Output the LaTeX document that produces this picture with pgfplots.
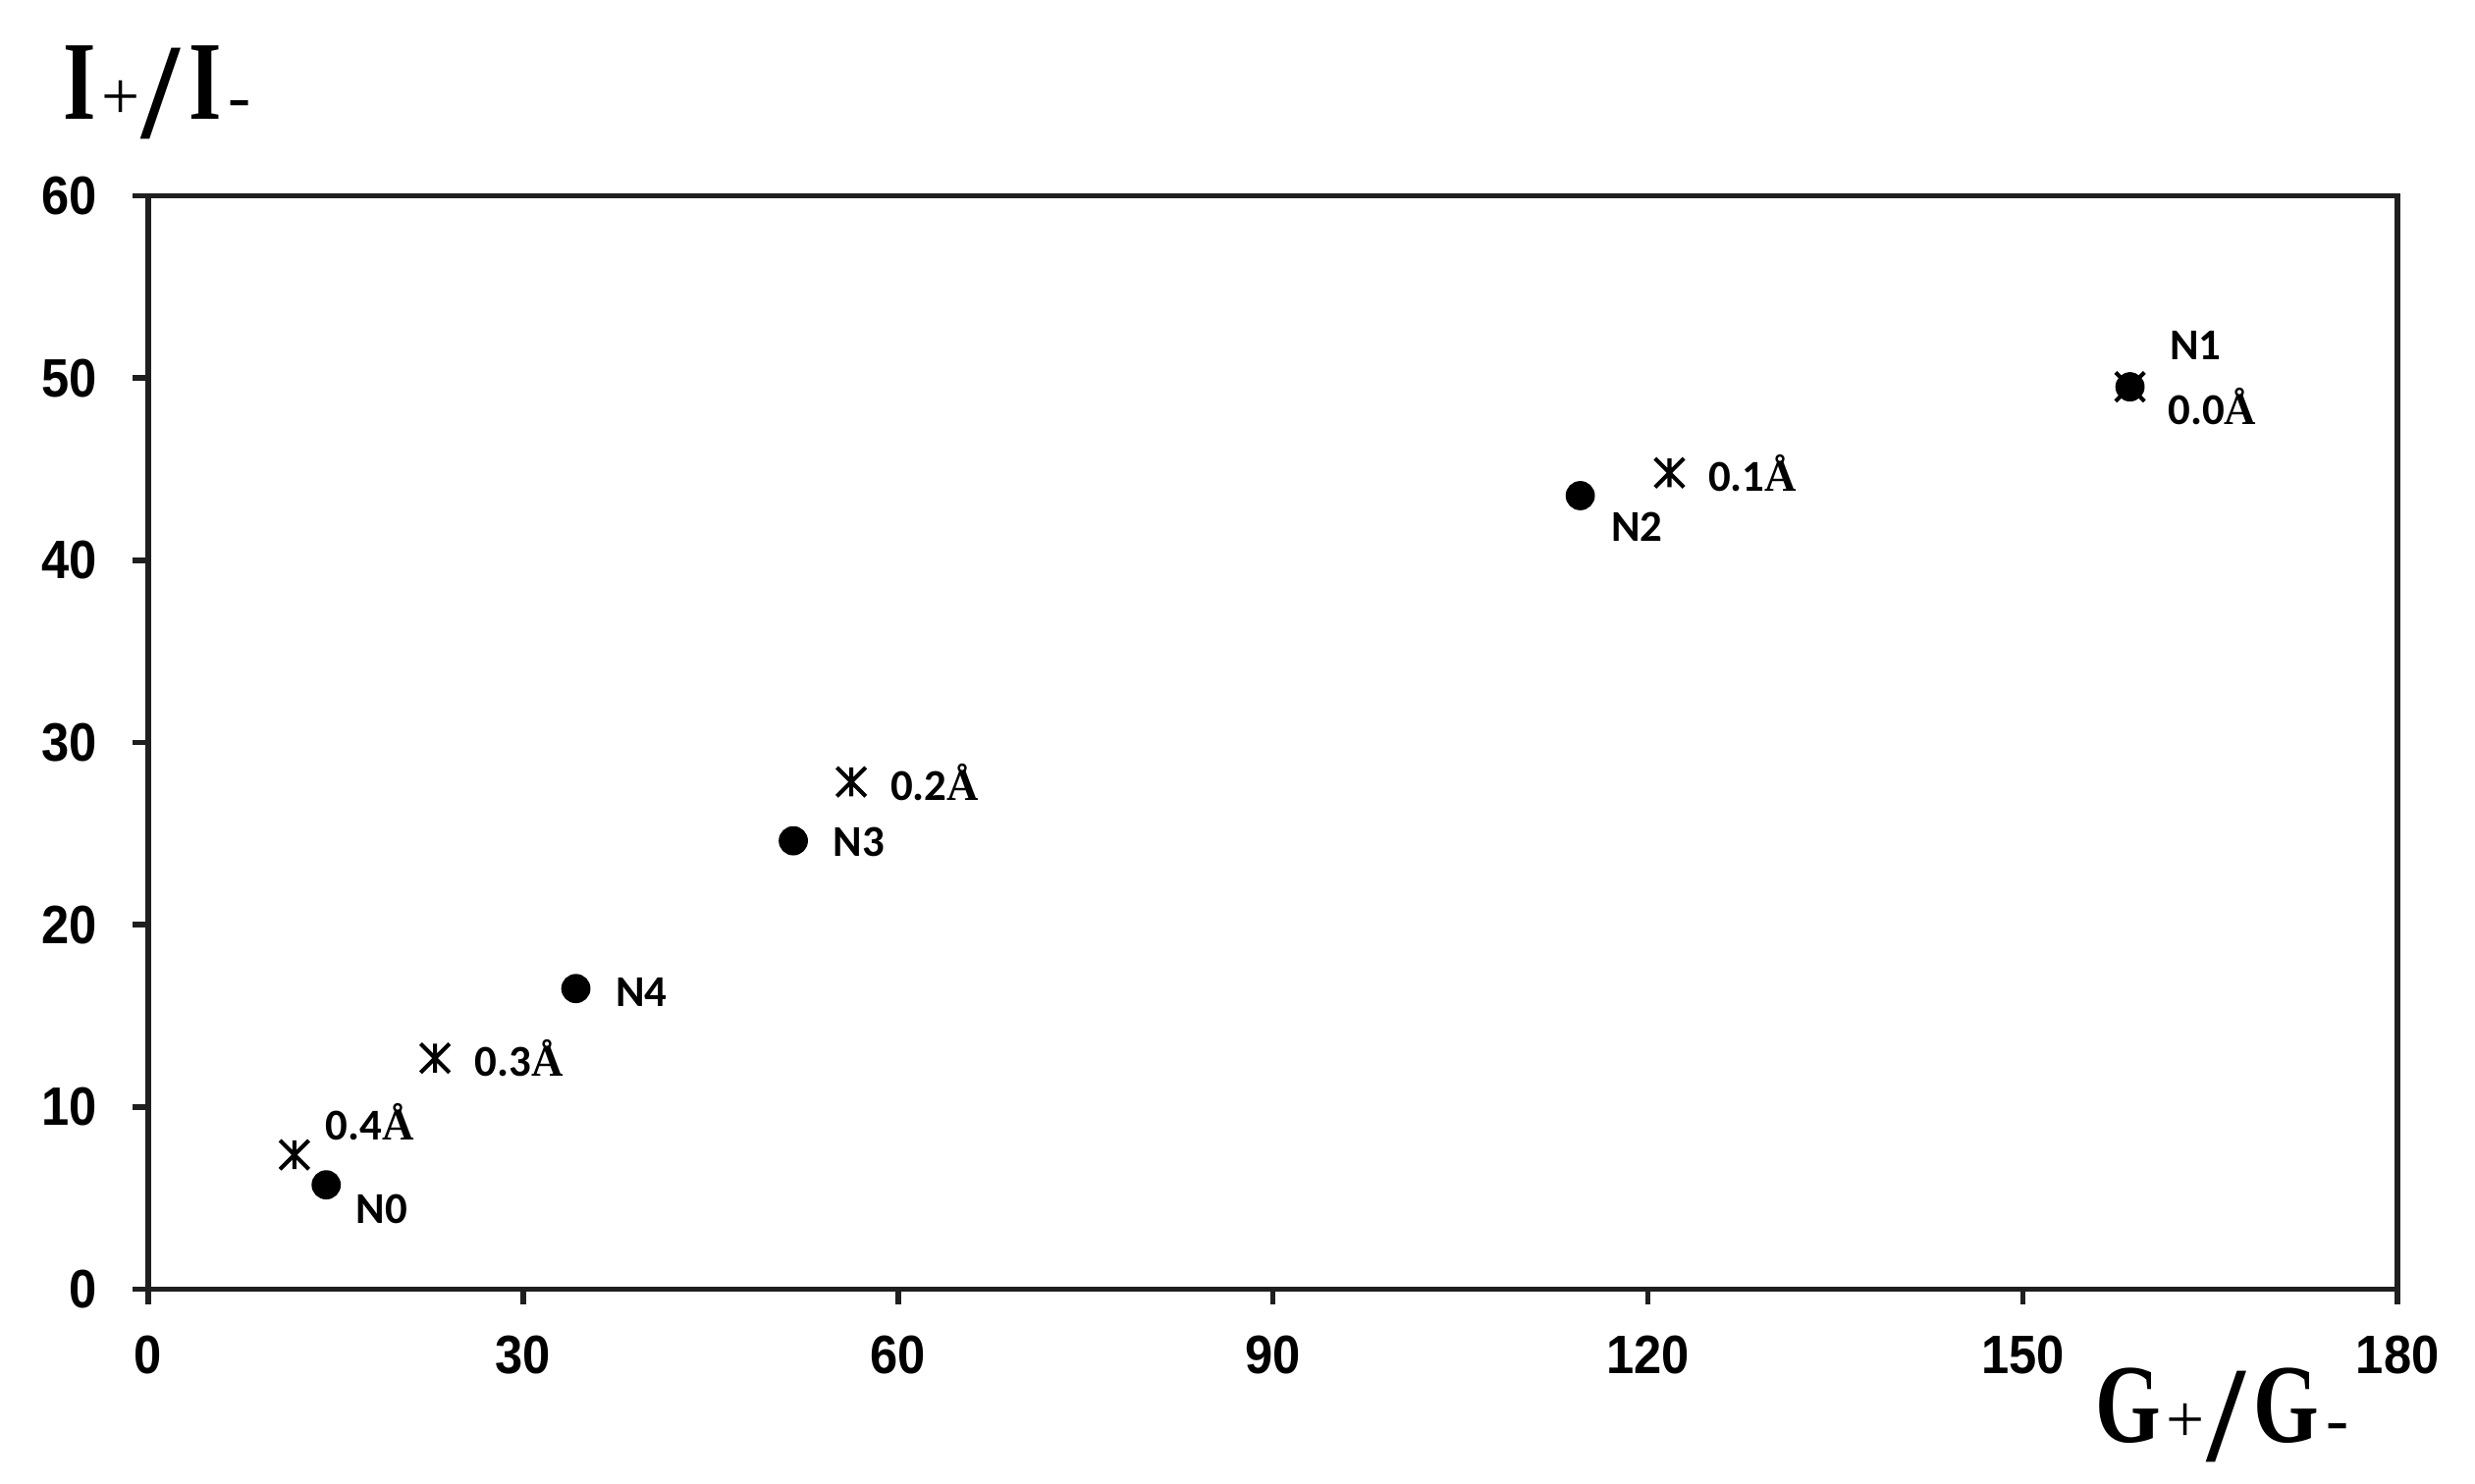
\documentclass[border=0pt]{standalone}
\usepackage{pgfplots}
\pgfplotsset{compat=1.18}
\usepackage{fontspec}
\setmainfont{Liberation Sans}
\newfontfamily\tickfont{Liberation Sans}[FakeStretch=0.92]
\newfontfamily\ptfont{Carlito}
\newfontfamily\angfont{Liberation Serif}
\newfontfamily\titfont{Liberation Serif}[FakeStretch=0.75]

% asterisk like the spreadsheet one: a vertical bar and an X
\pgfdeclareplotmark{xstar}{%
  \pgfpathmoveto{\pgfqpoint{0pt}{\pgfplotmarksize}}%
  \pgfpathlineto{\pgfqpoint{0pt}{-\pgfplotmarksize}}%
  \pgfpathmoveto{\pgfqpoint{-\pgfplotmarksize}{-\pgfplotmarksize}}%
  \pgfpathlineto{\pgfqpoint{\pgfplotmarksize}{\pgfplotmarksize}}%
  \pgfpathmoveto{\pgfqpoint{-\pgfplotmarksize}{\pgfplotmarksize}}%
  \pgfpathlineto{\pgfqpoint{\pgfplotmarksize}{-\pgfplotmarksize}}%
  \pgfusepathqstroke}

\newcommand{\ratio}[1]{%
  {\titfont\bfseries\fontsize{28}{28}\selectfont #1}%
  \kern1.2pt{\angfont\fontsize{17}{17}\selectfont +}%
  \kern0.6pt\raisebox{-4.6pt}{\angfont\bfseries\fontsize{34}{34}\selectfont /}%
  \kern2.2pt{\titfont\bfseries\fontsize{28}{28}\selectfont #1}%
  \kern1.8pt{\angfont\fontsize{17}{17}\selectfont -}}

\pgfplotstableread{
x      y     lab dx   dy
14.24  5.73  N0  7.3  -9.7
34.22  16.50 N4  9.8  -4.6
51.62  24.61 N3  9.8  -4.0
114.59 43.55 N2  7.5  -11.4
158.58 49.52 N1  9.8  6.7
}\circdata

\pgfplotstableread{
x      y     lab dx   dy
11.70  7.38  0.4 7.3  3.7
22.95  12.68 0.3 9.4  -4.5
56.26  27.84 0.2 9.3  -4.5
121.73 44.80 0.1 9.2  -4.5
158.58 49.52 0.0 9.0  -9.3
}\stardata

\begin{document}
\begin{tikzpicture}
\path[use as bounding box] (-37pt,-48.5pt) rectangle (580.8pt,321.9pt);
\begin{axis}[
    at={(0,0)}, anchor=south west,
    scale only axis,
    width=561.5pt, height=273pt,
    xmin=0, xmax=180, ymin=0, ymax=60,
    xtick={0,30,...,180},
    ytick={0,10,...,60},
    xtick pos=left, ytick pos=left,
    tick align=outside,
    major tick length=3.9pt,
    axis line style={line width=1.4pt, black!88},
    every tick/.style={line width=1.4pt, black!88},
    /pgf/number format/assume math mode=true,
    ticklabel style={font=\tickfont\bfseries\fontsize{13.5}{14}\selectfont, inner sep=0pt},
    yticklabel style={anchor=east, xshift=-8.7pt},
    xticklabel style={anchor=north, yshift=-7.5pt},
    xlabel={\ratio{G}},
    ylabel={\ratio{I}},
    xlabel style={at={(axis description cs:0.8655,-0.14)}, anchor=base west, inner sep=0pt},
    ylabel style={at={(axis description cs:-0.0379,1.0697)}, anchor=base west, rotate=-90, inner sep=0pt},
    clip=false,
  ]
  \addplot[only marks, mark=*, mark size=3.45pt, black,
    point meta=explicit symbolic,
    visualization depends on={\thisrow{dx}\as\dx},
    visualization depends on={\thisrow{dy}\as\dy},
    nodes near coords,
    nodes near coords style={anchor=base west, inner sep=0pt,
      xshift=\dx pt, yshift=\dy pt,
      font=\ptfont\bfseries\fontsize{11}{12}\selectfont}]
    table[x=x, y=y, meta=lab] {\circdata};
  \addplot[only marks, mark=xstar, mark size=3.6pt, black,
    mark options={line width=1pt},
    point meta=explicit symbolic,
    visualization depends on={\thisrow{dx}\as\dx},
    visualization depends on={\thisrow{dy}\as\dy},
    nodes near coords={\pgfplotspointmeta{\angfont\bfseries Å}},
    nodes near coords style={anchor=base west, inner sep=0pt,
      xshift=\dx pt, yshift=\dy pt,
      font=\ptfont\bfseries\fontsize{11}{12}\selectfont}]
    table[x=x, y=y, meta=lab] {\stardata};
\end{axis}
\end{tikzpicture}
\end{document}
